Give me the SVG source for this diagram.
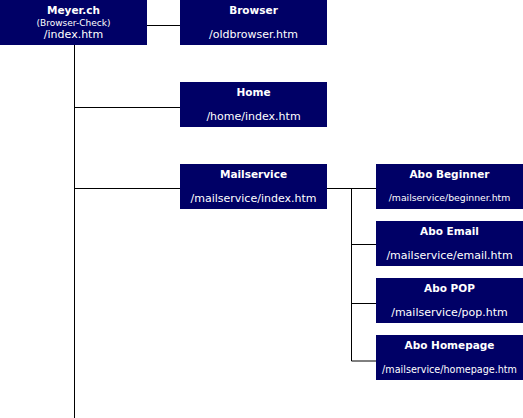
<svg xmlns="http://www.w3.org/2000/svg" width="523" height="418" viewBox="0 0 523 418">
<style>
.box{fill:#000066}
.t{font-family:"DejaVu Sans",Verdana,sans-serif;font-size:10.5px;font-weight:bold;fill:#fff;text-anchor:middle}
.s{font-family:"DejaVu Sans",Verdana,sans-serif;font-size:11px;fill:#fff;text-anchor:middle}
.xs{font-family:"DejaVu Sans",Verdana,sans-serif;font-size:9.3px;fill:#fff;text-anchor:middle}
.c{stroke:#000;stroke-width:1;fill:none}
</style>
<rect width="523" height="418" fill="#fff"/>
<g id="connectors" class="c">
<path d="M74.5 45V418"/>
<path d="M147 25.5H180"/>
<path d="M74.5 107.5H180"/>
<path d="M74.5 188.5H180"/>
<path d="M327 188.5H376"/>
<path d="M351.5 188V361H376"/>
<path d="M351.5 244.5H376"/>
<path d="M351.5 303.5H376"/>
</g>
<g id="meyer">
<rect class="box" x="0" y="0" width="147" height="45"/>
<text class="t" x="73.5" y="14">Meyer.ch</text>
<text class="xs" x="73.5" y="26" style="font-size:9px">(Browser-Check)</text>
<text class="s" x="73.5" y="38">/index.htm</text>
</g>
<g id="browser">
<rect class="box" x="180" y="0" width="147" height="45"/>
<text class="t" x="253.5" y="14">Browser</text>
<text class="s" x="253.5" y="38">/oldbrowser.htm</text>
</g>
<g id="home">
<rect class="box" x="180" y="82" width="147" height="45"/>
<text class="t" x="253.5" y="96">Home</text>
<text class="s" x="253.5" y="120">/home/index.htm</text>
</g>
<g id="mailservice">
<rect class="box" x="180" y="164" width="147" height="45"/>
<text class="t" x="253.5" y="178">Mailservice</text>
<text class="s" x="253.5" y="202">/mailservice/index.htm</text>
</g>
<g id="abo-beginner">
<rect class="box" x="376" y="164" width="147" height="45"/>
<text class="t" x="449.5" y="178">Abo Beginner</text>
<text class="xs" x="449.5" y="201">/mailservice/beginner.htm</text>
</g>
<g id="abo-email">
<rect class="box" x="376" y="221" width="147" height="45"/>
<text class="t" x="449.5" y="235">Abo Email</text>
<text class="s" x="449.5" y="259">/mailservice/email.htm</text>
</g>
<g id="abo-pop">
<rect class="box" x="376" y="278" width="147" height="45"/>
<text class="t" x="449.5" y="292">Abo POP</text>
<text class="s" x="449.5" y="316">/mailservice/pop.htm</text>
</g>
<g id="abo-homepage">
<rect class="box" x="376" y="335" width="147" height="45"/>
<text class="t" x="449.5" y="349">Abo Homepage</text>
<text class="xs" x="449.5" y="373" style="font-size:9.6px">/mailservice/homepage.htm</text>
</g>
</svg>
